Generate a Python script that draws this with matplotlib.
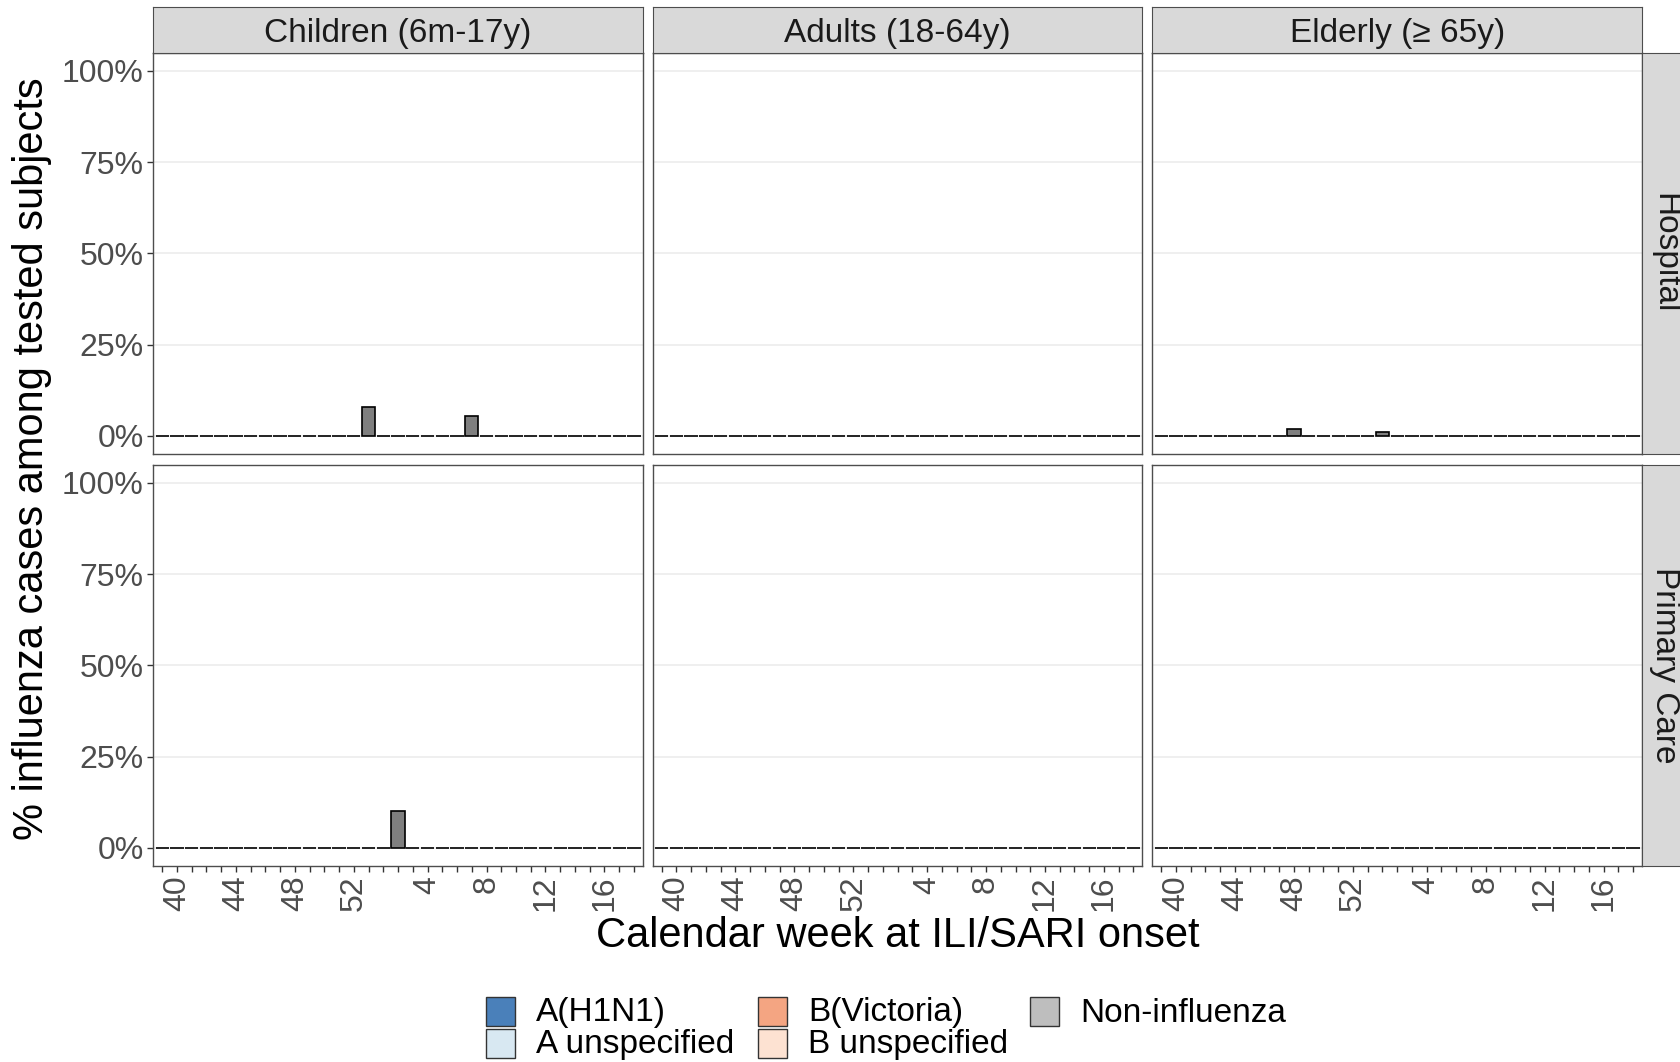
import matplotlib
matplotlib.use("Agg")
import matplotlib.pyplot as plt
from matplotlib.patches import Rectangle

plt.rcParams['font.family'] = ['Liberation Sans', 'DejaVu Sans']

# ----------------------------
# Data
# ----------------------------
weeks = list(range(39, 54)) + list(range(1, 19))
labelled_weeks = [40, 44, 48, 52, 4, 8, 12, 16]

age_groups = ["Children (6m-17y)", "Adults (18-64y)", "Elderly (≥ 65y)"]
settings = ["Hospital", "Primary Care"]

# % influenza cases among tested subjects, one value per week (39 ... 53, 1 ... 18)
hosp_children = [0, 0, 0, 0, 0, 0, 0, 0, 0, 0, 0, 0, 0, 0, 7.8, 0, 0, 0, 0, 0, 0,
                 5.5, 0, 0, 0, 0, 0, 0, 0, 0, 0, 0, 0]
hosp_adults = [0, 0, 0, 0, 0, 0, 0, 0, 0, 0, 0, 0, 0, 0, 0, 0, 0, 0, 0, 0, 0,
               0, 0, 0, 0, 0, 0, 0, 0, 0, 0, 0, 0]
hosp_elderly = [0, 0, 0, 0, 0, 0, 0, 0, 0, 1.9, 0, 0, 0, 0, 0, 1.0, 0, 0, 0, 0, 0,
                0, 0, 0, 0, 0, 0, 0, 0, 0, 0, 0, 0]
prim_children = [0, 0, 0, 0, 0, 0, 0, 0, 0, 0, 0, 0, 0, 0, 0, 0, 10.0, 0, 0, 0, 0,
                 0, 0, 0, 0, 0, 0, 0, 0, 0, 0, 0, 0]
prim_adults = [0, 0, 0, 0, 0, 0, 0, 0, 0, 0, 0, 0, 0, 0, 0, 0, 0, 0, 0, 0, 0,
               0, 0, 0, 0, 0, 0, 0, 0, 0, 0, 0, 0]
prim_elderly = [0, 0, 0, 0, 0, 0, 0, 0, 0, 0, 0, 0, 0, 0, 0, 0, 0, 0, 0, 0, 0,
                0, 0, 0, 0, 0, 0, 0, 0, 0, 0, 0, 0]

panel_values = [[hosp_children, hosp_adults, hosp_elderly],
                [prim_children, prim_adults, prim_elderly]]

legend_labels = ["A(H1N1)", "A unspecified", "B(Victoria)", "B unspecified", "Non-influenza"]
legend_colors = ["#4A80BA", "#D8E8F2", "#F4A582", "#FDE2D2", "#BEBEBE"]
bar_color = "#7F7F7F"

y_ticks = [0, 25, 50, 75, 100]

# ----------------------------
# Layout (pixels)
# ----------------------------
W, H = 1681, 1062
col_x = [153.3, 652.8, 1152.4]
col_w = 489.5
row_y = [52.5, 464.5]
row_h = 401.5
strip_h = 46.0


def box(x0, y0, w, h):
    return [x0 / W, 1 - (y0 + h) / H, w / W, h / H]


fig = plt.figure(figsize=(W / 100, H / 100), dpi=100)

x_pos = list(range(len(weeks)))
tick_labels = [str(w) if w in labelled_weeks else "" for w in weeks]

for r, setting in enumerate(settings):
    for c, group in enumerate(age_groups):
        ax = fig.add_axes(box(col_x[c], row_y[r], col_w, row_h))
        ax.set_xlim(-0.6, len(weeks) - 0.4)
        ax.set_ylim(-5, 105)
        for y in y_ticks:
            ax.axhline(y, color="#EBEBEB", lw=1.1, zorder=0)
        ax.bar(x_pos, panel_values[r][c], width=0.9, color=bar_color,
               edgecolor="black", linewidth=1.2, zorder=2)
        for s in ax.spines.values():
            s.set_color("#4D4D4D")
            s.set_linewidth(1.0)
        ax.tick_params(colors="#333333", labelcolor="#4D4D4D", labelsize=23,
                       length=4, width=1.0, pad=3)
        ax.set_yticks(y_ticks)
        if c == 0:
            ax.set_yticklabels([f"{y}%" for y in y_ticks])
        else:
            ax.tick_params(axis="y", length=0, labelleft=False)
        ax.set_xticks(x_pos)
        if r == 1:
            ax.set_xticklabels(tick_labels, rotation=90)
        else:
            ax.tick_params(axis="x", length=0, labelbottom=False)

        # top strips
        if r == 0:
            sax = fig.add_axes(box(col_x[c], row_y[0] - strip_h, col_w, strip_h))
            sax.set_facecolor("#D9D9D9")
            sax.set_xticks([])
            sax.set_yticks([])
            for s in sax.spines.values():
                s.set_color("#4D4D4D")
            sax.text(0.5, 0.42, group, ha="center", va="center", fontsize=24,
                     color="#1A1A1A", transform=sax.transAxes)

    # right strips
    rax = fig.add_axes(box(col_x[2] + col_w, row_y[r], strip_h, row_h))
    rax.set_facecolor("#D9D9D9")
    rax.set_xticks([])
    rax.set_yticks([])
    for s in rax.spines.values():
        s.set_color("#4D4D4D")
    rax.text(0.5, 0.5, setting, ha="center", va="center", rotation=-90,
             fontsize=24, color="#1A1A1A", transform=rax.transAxes)

# axis titles
fig.text(32 / W, 1 - 459 / H, "% influenza cases among tested subjects",
         rotation=90, ha="center", va="center", fontsize=30)
fig.text(897.7 / W, 1 - 936 / H, "Calendar week at ILI/SARI onset",
         ha="center", va="center", fontsize=30)

# legend (2 rows, filled column by column)
key = 29
key_x = [485.6, 757.9, 1030.2]
row_c = [1011, 1043]
for i, (lab, col) in enumerate(zip(legend_labels, legend_colors)):
    cx = key_x[i // 2]
    cy = row_c[i % 2]
    fig.patches.append(Rectangle((cx / W, 1 - (cy + key / 2) / H), key / W, key / H,
                                 transform=fig.transFigure, facecolor=col,
                                 edgecolor="#333333", linewidth=1.0))
    fig.text((cx + key + 21.5) / W, 1 - (cy + 2) / H, lab, ha="left", va="center",
             fontsize=24, color="black")

fig.savefig("out.png", dpi=100)
